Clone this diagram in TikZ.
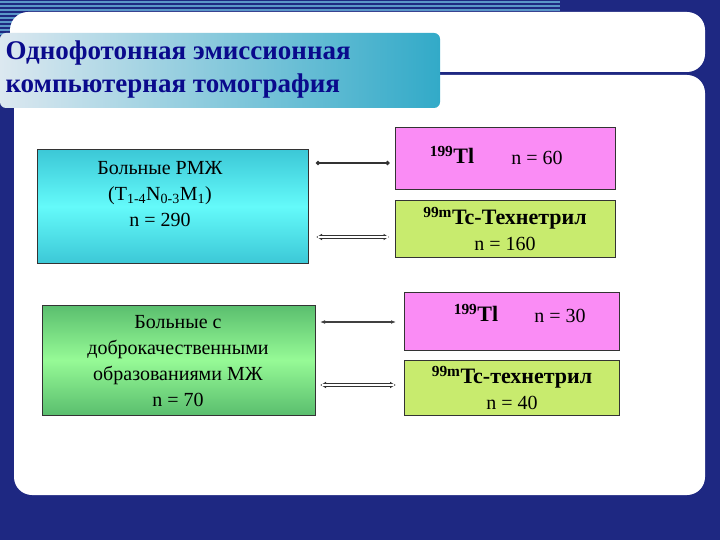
\documentclass[tikz,border=0pt]{standalone}
\usepackage{fontspec}
\setmainfont{Liberation Serif}
\usetikzlibrary{arrows.meta}
\definecolor{navy}{RGB}{30,40,130}
\definecolor{stripe}{RGB}{90,150,200}
\definecolor{ttl}{RGB}{10,10,140}
\definecolor{banL}{RGB}{220,232,240}
\definecolor{banR}{RGB}{50,170,200}
\definecolor{pk}{RGB}{250,140,245}
\definecolor{lm}{RGB}{200,235,110}
\definecolor{cyE}{RGB}{60,200,215}
\definecolor{cyM}{RGB}{100,250,250}
\definecolor{grE}{RGB}{90,190,110}
\definecolor{grM}{RGB}{150,250,150}
\begin{document}
\begin{tikzpicture}[x=1pt,y=-1pt,
  pinkbox/.style={draw=black!80,line width=1pt,fill=pk},
  limebox/.style={draw=black!80,line width=1pt,fill=lm},
  lab/.style={font=\fontsize{20}{26}\selectfont,align=center},
  tl/.style={font=\bfseries\fontsize{22}{24}\selectfont},
  darkline/.style={line width=2pt,black!80,{Circle[length=4pt]}-{Circle[length=4pt]}},
  dblout/.style={line width=3.2pt,black!80,{Latex[length=6pt,width=7pt]}-{Latex[length=6pt,width=7pt]}},
  dblin/.style={line width=1.2pt,white,shorten <=2pt,shorten >=2pt}]
\useasboundingbox (0,0) rectangle (720,540);
\fill[navy] (0,0) rectangle (720,540);
\foreach \yy in {2,6,...,70} \draw[stripe,line width=1.2pt] (0,\yy) -- (560,\yy);
\fill[white,rounded corners=18pt] (10,12) rectangle (705,72);
\fill[white,rounded corners=18pt] (14,75) rectangle (705,495);
\shade[left color=banL,right color=banR,rounded corners=6pt] (0,33) rectangle (440,108);
\node[anchor=west,align=left,text=ttl,font=\bfseries\fontsize{27}{33}\selectfont] (title) at (2,70) {Однофотонная эмиссионная\\компьютерная томография};
% left boxes
\shade[top color=cyE,bottom color=cyE,middle color=cyM] (37,150) rectangle (308,263);
\draw[black!80,line width=1pt] (37,150) rectangle (308,263);
\node[lab] (a) at (160,194) {Больные РМЖ\\(T\textsubscript{1-4}N\textsubscript{0-3}M\textsubscript{1})\\n = 290};
\shade[top color=grE,bottom color=grE,middle color=grM] (42,305) rectangle (315,415);
\draw[black!80,line width=1pt] (42,305) rectangle (315,415);
\node[lab] (b) at (178,361) {Больные с\\доброкачественными\\образованиями МЖ\\n = 70};
% right boxes
\node[pinkbox,minimum width=220pt,minimum height=62pt] (p1) at (505,159) {};
\node[tl] (t1) at (452,155) {\textsuperscript{199}Tl};
\node[lab] (n1) at (537,158) {n = 60};
\node[limebox,minimum width=220pt,minimum height=56pt,lab] (g1) at (505,229) {\textbf{\fontsize{22}{26}\selectfont\textsuperscript{99m}Tc-Технетрил}\\n = 160};
\node[pinkbox,minimum width=215pt,minimum height=58pt] (p2) at (512,321) {};
\node[tl] (t2) at (476,313) {\textsuperscript{199}Tl};
\node[lab] (n2) at (560,316) {n = 30};
\node[limebox,minimum width=215pt,minimum height=55pt,lab] (g2) at (512,388) {\textbf{\fontsize{22}{26}\selectfont\textsuperscript{99m}Tc-технетрил}\\n = 40};
% connectors
\coordinate (s1) at (316,163); \coordinate (e1) at (p1.west |- s1);
\coordinate (s2) at (316,237); \coordinate (e2) at (g1.west |- s2);
\coordinate (s3) at (320,322); \coordinate (e3) at (p2.west |- s3);
\coordinate (s4) at (320,385); \coordinate (e4) at (g2.west |- s4);
\draw[darkline] (s1) -- ([xshift=-5pt]e1);
\draw[dblout] (s2) -- ([xshift=-5pt]e2);
\draw[dblin] (s2) -- ([xshift=-5pt]e2);
\draw[line width=2.5pt,black!75,{Latex[length=5pt]}-{Latex[length=5pt]}] (s3) -- ([xshift=-8pt]e3);
\draw[dblout] (s4) -- ([xshift=-8pt]e4);
\draw[dblin] (s4) -- ([xshift=-8pt]e4);
\end{tikzpicture}
\end{document}
